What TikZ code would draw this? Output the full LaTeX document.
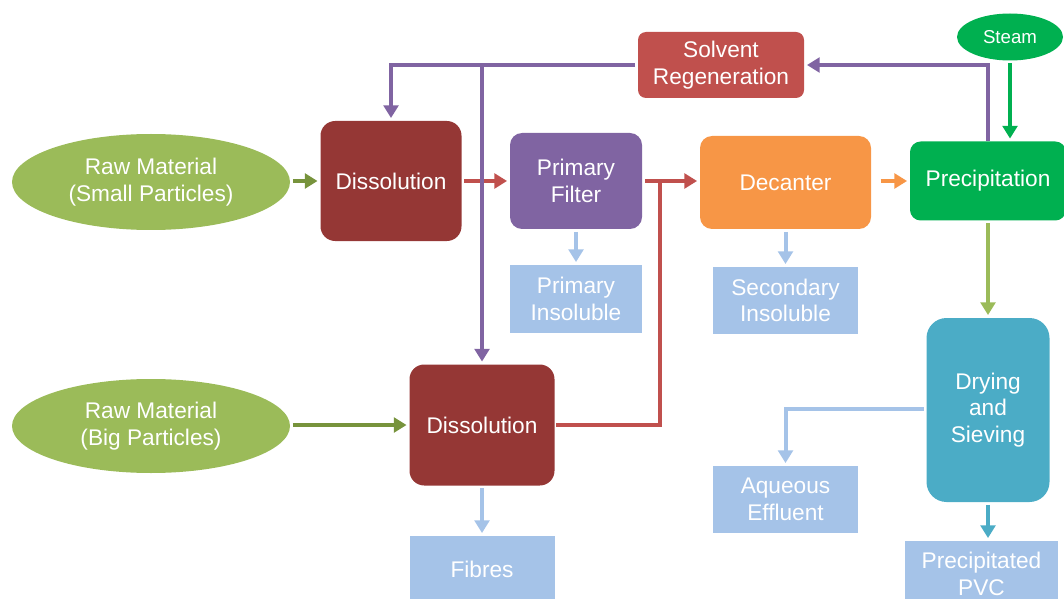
\documentclass[tikz,border=0pt]{standalone}
\usepackage{fontspec}
\setmainfont{Liberation Sans}
\usetikzlibrary{arrows.meta,shapes.geometric}

\definecolor{feedgreen}{HTML}{9BBB59}
\definecolor{olivedark}{HTML}{77933C}
\definecolor{dissred}{HTML}{953735}
\definecolor{purpleA}{HTML}{8064A2}
\definecolor{orangeA}{HTML}{F79646}
\definecolor{greenA}{HTML}{00B050}
\definecolor{redA}{HTML}{C0504D}
\definecolor{sinkblue}{HTML}{A5C3E8}
\definecolor{tealA}{HTML}{4BACC6}

\begin{document}
\begin{tikzpicture}[x=0.75pt,y=-0.75pt,
  base/.style={text=white, font=\fontsize{17}{20}\selectfont, align=center, inner sep=0pt},
  proc/.style={base, rectangle, rounded corners=9pt, fill=#1},
  sink/.style={base, rectangle, fill=sinkblue},
  feed/.style={base, ellipse, fill=feedgreen},
  pipe/.style={line width=3pt, draw=#1},
  flow/.style={pipe=#1, -{Triangle[length=9.5pt,width=11pt]}, shorten >=2pt, shorten <=2pt},
]
\useasboundingbox (0,0) rectangle (1064,599);

% feed streams
\node[feed, minimum width=208.5pt, minimum height=72pt] (rawS) at (151,182) {Raw Material\\(Small Particles)};
\node[feed, minimum width=208.5pt, minimum height=70.5pt] (rawB) at (151,426) {Raw Material\\(Big Particles)};
\node[base, ellipse, fill=greenA, minimum width=79.5pt, minimum height=35.25pt, font=\fontsize{14}{16}\selectfont] (steam) at (1010,37) {Steam};

% process units
\node[proc=dissred, rounded corners=11pt, minimum width=105.75pt, minimum height=90pt] (dis1) at (391,181) {Dissolution};
\node[proc=purpleA, minimum width=99pt, minimum height=72pt] (pfil) at (576,181) {Primary\\Filter};
\node[proc=orangeA, minimum width=128.25pt, minimum height=69.75pt] (dec) at (785.5,182.5) {Decanter};
\node[proc=greenA, rounded corners=8pt, minimum width=117pt, minimum height=59.25pt] (prec) at (988,181) {Precipitation};
\node[proc=redA, rounded corners=6pt, minimum width=124.5pt, minimum height=49.5pt] (solv) at (721,65) {Solvent\\Regeneration};
\node[proc=dissred, rounded corners=11pt, minimum width=108.75pt, minimum height=90.75pt] (dis2) at (482,425) {Dissolution};
\node[proc=tealA, rounded corners=15pt, minimum width=92.25pt, minimum height=138pt] (dry) at (988,410) {Drying\\and\\Sieving};

% products and residues
\node[sink, minimum width=99pt, minimum height=51pt] (pins) at (576,299) {Primary\\Insoluble};
\node[sink, minimum width=108.75pt, minimum height=50.25pt] (sins) at (785.5,300.5) {Secondary\\Insoluble};
\node[sink, minimum width=108.75pt, minimum height=49.5pt] (fib) at (482,569) {Fibres};
\node[sink, minimum width=108.75pt, minimum height=50.25pt] (aq) at (785.5,499.5) {Aqueous\\Effluent};
\node[sink, minimum width=114.75pt, minimum height=49.5pt] (ppvc) at (981.5,574) {Precipitated\\PVC};

% routing points
\coordinate (jr) at (660,181);
\coordinate (rtop) at (988,65);
\coordinate (btop) at (482,65);
\coordinate (aqc) at (785,409);

% main line
\draw[flow=olivedark] (rawS.east |- dis1) -- (dis1);
\draw[flow=olivedark] (rawB.east |- dis2) -- (dis2);
\draw[flow=redA] (dis1) -- (pfil);
\draw[flow=redA] (pfil.east |- jr) -- (dec.west |- jr);
\draw[pipe=redA, shorten <=1pt] (dis2.east) -| (jr);
\draw[flow=orangeA, shorten <=7pt] (dec.east |- jr) -- (prec.west |- jr);
\draw[flow=greenA] (steam.south) -- (steam.south |- prec.north);

% solvent recycle
\draw[flow=purpleA, shorten <=0pt] (prec.north -| rtop) |- (solv.east);
\draw[flow=purpleA] (solv.west) -| (dis1.north);
\draw[flow=purpleA, shorten <=0pt] (btop) -- (dis2.north);

% outlets
\draw[flow=sinkblue] (pfil.south) -- (pins.north);
\draw[flow=sinkblue] (dec.south) -- (sins.north);
\draw[flow=sinkblue] (dis2.south) -- (fib.north);
\draw[flow=feedgreen] (prec.south) -- (dry.north);
\draw[flow=sinkblue] (dry.west |- aqc) -| (aq.north);
\draw[flow=tealA] (dry.south) -- (dry.south |- ppvc.north);
\end{tikzpicture}
\end{document}
